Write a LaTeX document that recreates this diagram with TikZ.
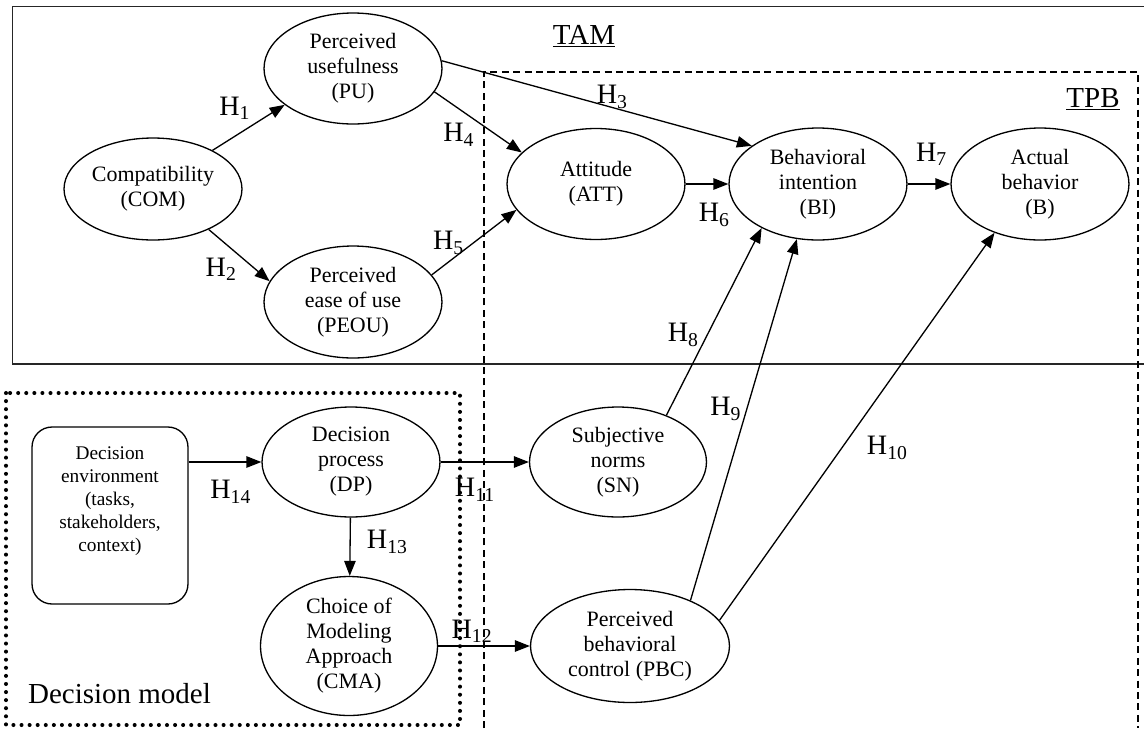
\documentclass[tikz,border=0pt]{standalone}
\usepackage{fontspec}
\setmainfont{Liberation Serif}
\usetikzlibrary{shapes.geometric, arrows.meta}

\begin{document}
\begin{tikzpicture}[x=0.02cm, y=-0.02cm,
    construct/.style={ellipse, draw, line width=0.75pt, inner sep=0pt, align=center,
      font=\fontsize{12.5}{14.2}\selectfont, minimum width=3.56cm, minimum height=2.22cm},
    hyp/.style={font=\fontsize{16}{18}\selectfont, inner sep=1pt},
    link/.style={line width=0.75pt, -{Triangle[length=8.5pt, width=6.5pt]}},
    title/.style={font=\fontsize{16.5}{19}\selectfont, anchor=base}]
    \useasboundingbox (0,0) rectangle (1144,728);

    % 枠
    \draw[line width=1.1pt, black!85] (1144,6.5) -- (12.5,6.5) -- (12.5,364) -- (1144,364);
    \draw[line width=0.8pt, dash pattern=on 4pt off 2.5pt] (484,728) -- (484,72) -- (1138,72) -- (1138,728);
    \draw[line width=2.3pt, line cap=round, dash pattern=on 0pt off 4.6pt] (6,393) rectangle (460,725);

    \node[title] (tam) at (584,44) {\underline{TAM}};
    \node[title] (tpb) at (1093,107) {\underline{TPB}};
    \node[title] (dm) at (119.5,703) {Decision model};

    \node[construct, minimum height=2.04cm] (COM) at (153,189) {Compatibility\\(COM)};
    \node[construct] (PU) at (353,68.5) {Perceived\\usefulness\\(PU)};
    \node[construct, minimum height=2.24cm] (PEOU) at (353,302) {Perceived\\ease of use\\(PEOU)};
    \node[construct] (ATT) at (596,184) {Attitude\\(ATT)};
    \node[construct, minimum height=2.24cm] (BI) at (818,184) {Behavioral\\intention\\(BI)};
    \node[construct, minimum height=2.24cm] (B) at (1040,184) {Actual\\behavior\\(B)};
    \node[construct, minimum height=2.2cm] (DP) at (351,462) {Decision\\process\\(DP)};
    \node[construct, minimum width=3.54cm, minimum height=2.78cm] (CMA) at (349,646) {Choice of\\Modeling\\Approach\\(CMA)};
    \node[construct, minimum width=3.54cm, minimum height=2.2cm] (SN) at (618,462) {Subjective\\norms\\(SN)};
    \node[construct, minimum width=3.98cm, minimum height=2.26cm] (PBC) at (630,646) {Perceived\\behavioral\\control (PBC)};
    \node[draw, rounded corners=0.4cm, line width=0.75pt, minimum width=3.12cm, minimum height=3.54cm] (env) at (110,515.5) {};
    \node[align=center, font=\fontsize{11}{13}\selectfont] (envtext) at (110,501) {Decision\\environment\\(tasks,\\stakeholders,\\context)};

    % 矢印を引く
    \draw[link] (COM.33.5) -- node[hyp, pos=0.31, above=8pt] (h1) {H\textsubscript{1}} (PU.208);
    \draw[link] (COM.-36) -- node[hyp, midway, below left] (h2) {H\textsubscript{2}} (PEOU.166.5);
    \draw[link] (PU.5.6) -- node[hyp, pos=0.55, yshift=6pt] (h3) {H\textsubscript{3}} (BI.150.8);
    \draw[link] (PU.-16.8) -- node[hyp, pos=0.28, below=7pt] (h4) {H\textsubscript{4}} (ATT.157.2);
    \draw[link] (PEOU.19.5) -- node[hyp, pos=0.2, above=3pt] (h5) {H\textsubscript{5}} (ATT.198.2);
    \draw[link] (ATT) -- node[hyp, pos=0.67, below=9.5pt] (h6) {H\textsubscript{6}} (BI);
    \draw[link] (BI) -- node[hyp, pos=0.56, above=9pt] (h7) {H\textsubscript{7}} (B);
    \draw[link] (SN.44) -- node[hyp, pos=0.43, left=3.5pt] (h8) {H\textsubscript{8}} (BI.218);
    \draw[link] (PBC.37) -- node[hyp, pos=0.53, left=1.8pt] (h9) {H\textsubscript{9}} (BI.249);
    \draw[link] (PBC.16) -- node[hyp, midway, below right=4.3pt] (h10) {H\textsubscript{10}} (B.227);
    \draw[link] (DP) -- node[hyp, pos=0.39, below=8pt] (h11) {H\textsubscript{11}} (SN);
    \draw[link] (CMA) -- node[hyp, pos=0.37, above=0.5pt] (h12) {H\textsubscript{12}} (PBC);
    \draw[link] (DP) -- node[hyp, pos=0.42, right=8.2pt] (h13) {H\textsubscript{13}} (CMA);
    \draw[link] (env.east |- DP.west) -- node[hyp, pos=0.58, below=9pt] (h14) {H\textsubscript{14}} (DP.west);
\end{tikzpicture}
\end{document}
